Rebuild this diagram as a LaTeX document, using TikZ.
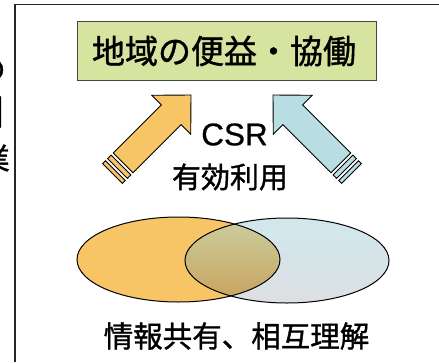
\documentclass[tikz,border=0pt]{standalone}
\usepackage{fontspec}
\newfontfamily\jp[FakeBold=1.2]{Noto Sans CJK JP}
\newfontfamily\lat[FakeBold=0.6]{Liberation Sans}
\definecolor{boxgreen}{RGB}{214,228,160}
\definecolor{boxedge}{RGB}{70,70,70}
\definecolor{arrorange}{RGB}{247,197,102}
\definecolor{arrblue}{RGB}{184,221,226}
\definecolor{elltop}{RGB}{208,232,237}
\definecolor{ellbot}{RGB}{221,223,227}
\definecolor{ovtop}{RGB}{203,206,160}
\definecolor{ovbot}{RGB}{200,162,92}
\tikzset{
  outline/.style={draw=black, line width=0.9pt, line join=miter},
  label jp/.style={inner sep=0pt, text=black},
}
\newcommand\arrowbody[1]{%
  \path[outline, fill=#1] (0,0) -- (28,27.6) -- (28,14) -- (96,14) -- (96,-14) -- (28,-14) -- (28,-27.6) -- cycle;
  \path[outline, fill=#1] (99,14) -- (104,14) -- (104,-14) -- (99,-14) -- cycle;
  \path[outline, fill=#1] (107,14) -- (111,14) -- (111,-14) -- (107,-14) -- cycle;
}
\begin{document}
\begin{tikzpicture}[x=1pt,y=-1pt]
\useasboundingbox (0,0) rectangle (439,362);
\fill[white] (0,0) rectangle (439,362);
% cut-off text fragments at left edge
\node[label jp, anchor=east, font=\jp\fontsize{30pt}{30pt}\selectfont] (fa) at (6,70) {の};
\node[label jp, anchor=east, font=\jp\fontsize{36pt}{36pt}\selectfont] (fb) at (7,112) {目};
\node[label jp, anchor=east, font=\jp\fontsize{30pt}{30pt}\selectfont] (fc) at (10,158) {業};
% frame
\draw[line width=1.2pt, color=black!85] (15,362) -- (15,4.5) -- (439,4.5);
% goal box
\node[draw=boxedge, line width=1pt, fill=boxgreen, minimum width=299pt, minimum height=59pt, inner sep=0pt] (goal) at (226.5,50.5) {};
\node[label jp, font=\jp\fontsize{33pt}{33pt}\selectfont] (goaltext) at (224,51) {地域の便益・協働};
% arrows
\coordinate (otip) at (191,95);
\coordinate (btip) at (273,95);
\begin{scope}[shift={(otip)}, x={(-0.7071pt,-0.7071pt)}, y={(0.7071pt,-0.7071pt)}]
  \arrowbody{arrorange}
\end{scope}
\begin{scope}[shift={(btip)}, x={(0.7071pt,-0.7071pt)}, y={(0.7071pt,0.7071pt)}]
  \arrowbody{arrblue}
\end{scope}
\node[label jp, font=\lat\fontsize{31.5pt}{31.5pt}\selectfont] (csr) at (234.5,134.5) {CSR};
\node[label jp, font=\jp\fontsize{29pt}{29pt}\selectfont] (use) at (230,177) {有効利用};
% ellipses
\coordinate (lc) at (178.5,259.5);
\coordinate (rc) at (287,260.5);
\fill[arrorange] (lc) ellipse [x radius=101.5pt, y radius=42.5pt];
\shade[top color=elltop, bottom color=ellbot] (rc) ellipse [x radius=102pt, y radius=42.5pt];
\begin{scope}
  \clip (lc) ellipse [x radius=101.5pt, y radius=42.5pt];
  \shade[top color=ovtop, bottom color=ovbot] (rc) ellipse [x radius=102pt, y radius=42.5pt];
\end{scope}
\draw[line width=1pt] (lc) ellipse [x radius=101.5pt, y radius=42.5pt];
\draw[line width=1pt] (rc) ellipse [x radius=102pt, y radius=42.5pt];
\node[label jp, font=\jp\fontsize{29.5pt}{29.5pt}\selectfont] (share) at (236.5,336) {情報共有、相互理解};
\end{tikzpicture}
\end{document}
